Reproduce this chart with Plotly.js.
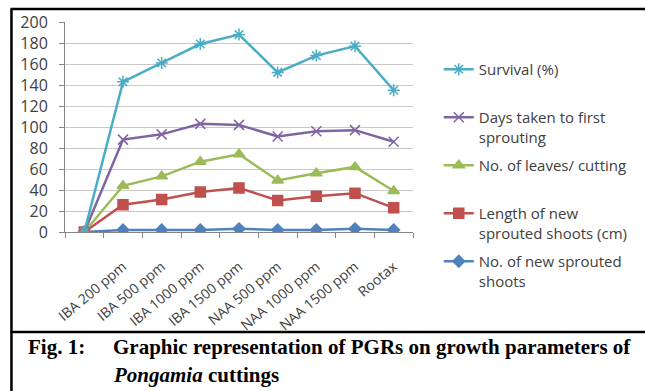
<!DOCTYPE html>
<html><head><meta charset="utf-8">
<script src="https://cdn.plot.ly/plotly-3.0.1.min.js"></script>
<style>html,body{margin:0;padding:0;background:#fff}#chart{width:645px;height:391px}</style>
</head><body><div id="chart"></div>
<script>
const categories = ["", "IBA 200 ppm", "IBA 500 ppm", "IBA 1000 ppm", "IBA 1500 ppm", "NAA 500 ppm", "NAA 1000 ppm", "NAA 1500 ppm", "Rootax"];
const survival = [0, 143, 161, 179, 188, 152, 168, 177, 135];
const daysToSprout = [0, 88, 93, 103, 102, 91, 96, 97, 86];
const leaves = [0, 44, 53, 67, 74, 49, 56, 62, 39];
const shootLength = [0, 26, 31, 38, 42, 30, 34, 37, 23];
const newShoots = [0, 2, 2, 2, 3, 2, 2, 3, 2];
const yTicks = [0, 20, 40, 60, 80, 100, 120, 140, 160, 180, 200];
const seriesNames = ["No. of new sprouted<br>shoots", "Length of new<br>sprouted shoots (cm)", "No. of leaves/ cutting<br> ", "Days taken to first<br>sprouting", "Survival (%)<br> "];

const W = 645, H = 391, ml = 65, mr = 229, mt = 22, mb = 159;
const px2x = p => (p - ml) / (W - ml - mr);
const py2y = p => (H - mb - p) / (H - mt - mb);
const xIdx = categories.map((c, i) => i);

function tr(name, y, color, symbol, size, rank) {
  return {
    x: xIdx, y: y, name: name, type: 'scatter', mode: 'lines+markers',
    legendgroup: 'g' + rank, legendrank: rank,
    line: {color: color, width: 2.5},
    marker: {color: color, symbol: symbol, size: size, line: {color: color, width: 1.5}}
  };
}
const data = [
  tr(seriesNames[0], newShoots, '#4F81BD', 'diamond', 9, 5),
  tr(seriesNames[1], shootLength, '#C0504D', 'square', 10, 4),
  tr(seriesNames[2], leaves, '#9BBB59', 'triangle-up', 10, 3),
  tr(seriesNames[3], daysToSprout, '#8064A2', 'x-thin-open', 10, 2),
  tr(seriesNames[4], survival, '#4BACC6', 'asterisk-open', 10, 1)
];

const cap = {family: 'Liberation Serif', size: 21, color: '#000'};
const layout = {
  width: W, height: H,
  margin: {l: ml, r: mr, t: mt, b: mb},
  paper_bgcolor: '#fff', plot_bgcolor: '#fff',
  showlegend: true,
  legend: {
    x: px2x(442), y: py2y(53), xanchor: 'left', yanchor: 'top',
    traceorder: 'grouped', tracegroupgap: 6, valign: 'top', maxheight: 1000,
    font: {family: 'Open Sans', size: 15, color: '#404040'},
    bgcolor: 'rgba(0,0,0,0)'
  },
  xaxis: {
    range: [-0.5, 8.5], tickvals: xIdx, ticktext: categories,
    tickangle: -40, ticks: 'outside', ticklen: 20, tickcolor: 'rgba(0,0,0,0)',
    showgrid: false, zeroline: false,
    showline: true, linecolor: '#868686', linewidth: 1,
    tickfont: {family: 'Open Sans', size: 14, color: '#404040'},
    minor: {ticks: 'outside', tick0: -0.5, dtick: 1, ticklen: 5, tickcolor: '#868686', showgrid: false}
  },
  yaxis: {
    range: [0, 200], tickvals: yTicks, ticks: 'outside', ticklen: 5, tickcolor: '#868686',
    ticklabelstandoff: 8,
    showgrid: true, gridcolor: '#c8c8c8', gridwidth: 1, zeroline: false,
    showline: true, linecolor: '#868686', linewidth: 1,
    tickfont: {family: 'Open Sans', size: 16, color: '#404040'}
  },
  shapes: [
    {type: 'line', xref: 'paper', yref: 'paper', x0: px2x(11), x1: px2x(11), y0: py2y(9), y1: py2y(400), line: {color: '#000', width: 2.5}},
    {type: 'line', xref: 'paper', yref: 'paper', x0: px2x(10), x1: px2x(660), y0: py2y(9), y1: py2y(9), line: {color: '#000', width: 2.5}},
    {type: 'line', xref: 'paper', yref: 'paper', x0: px2x(10), x1: px2x(660), y0: py2y(332), y1: py2y(332), line: {color: '#000', width: 2.5}}
  ],
  annotations: [
    {xref: 'paper', yref: 'paper', x: px2x(26), y: py2y(347), xanchor: 'left', yanchor: 'middle', showarrow: false, text: '<b>Fig. 1:</b>', font: cap},
    {xref: 'paper', yref: 'paper', x: px2x(111), y: py2y(347), xanchor: 'left', yanchor: 'middle', showarrow: false, text: '<b>Graphic representation of PGRs on growth parameters of</b>', font: cap},
    {xref: 'paper', yref: 'paper', x: px2x(111), y: py2y(375), xanchor: 'left', yanchor: 'middle', showarrow: false, text: '<b><i>Pongamia</i> cuttings</b>', font: cap}
  ]
};
Plotly.newPlot('chart', data, layout, {displayModeBar: false, staticPlot: true});
</script></body></html>
